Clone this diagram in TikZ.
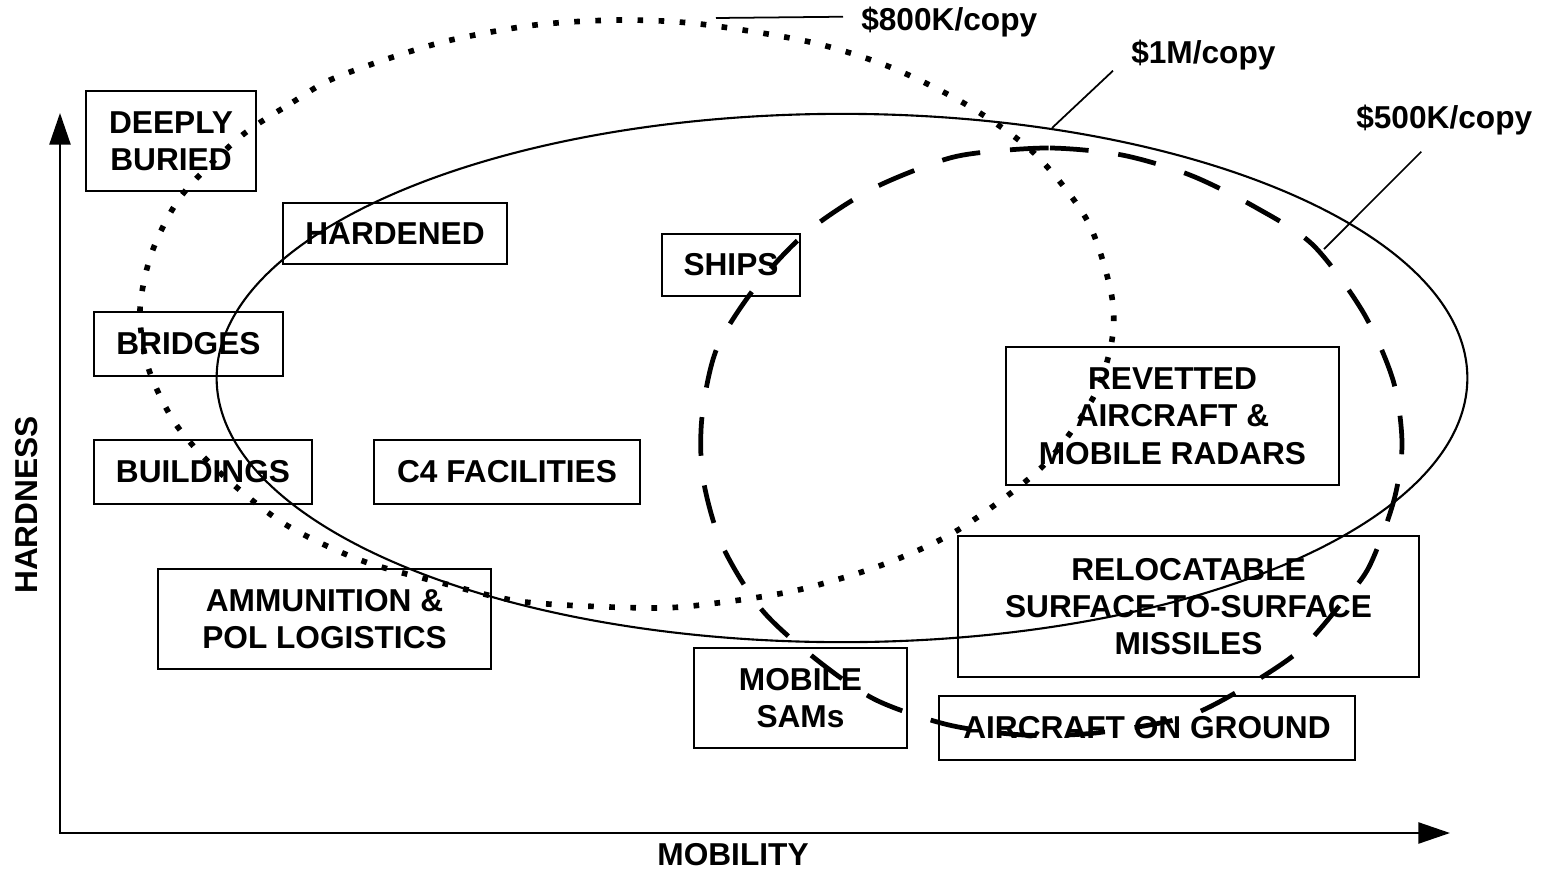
\documentclass[tikz,border=0pt]{standalone}
\usepackage{fontspec}
\setmainfont{Liberation Sans}
\usetikzlibrary{arrows.meta}

\begin{document}
\begin{tikzpicture}[x=0.01cm,y=-0.01cm,
  font=\fontsize{9}{10.6}\selectfont\bfseries,
  target/.style={draw,line width=0.7pt,align=center,inner sep=0pt},
  axis/.style={line width=0.6pt,{Triangle[length=9pt,width=6pt]}-{Triangle[length=9pt,width=6pt]}},
  cost/.style={inner xsep=5pt,inner ysep=0pt},
  leader/.style={line width=0.5pt},
  dots/.style={line width=1.6pt,dash pattern=on 1.6pt off 4.4pt},
  dashes/.style={line width=1.35pt,dash pattern=on 11pt off 8.5pt}]
\useasboundingbox (0,0) rectangle (1541,869);

% axes
\coordinate (ytip) at (60,113);
\coordinate (origin) at (60,833);
\coordinate (xtip) at (1450,833);
\draw[axis] (ytip) -- (origin) -- (xtip);
\node[rotate=90] (hard) at (27,505) {HARDNESS};
\node (mob) at (733,855) {MOBILITY};

% targets
\node[target,minimum width=1.70cm,minimum height=1.00cm] (deep) at (171,141) {DEEPLY\\BURIED};
\node[target,minimum width=2.24cm,minimum height=0.61cm] (hardened) at (395,233.5) {HARDENED};
\node[target,minimum width=1.38cm,minimum height=0.62cm] (ships) at (731,265) {SHIPS};
\node[target,minimum width=1.89cm,minimum height=0.64cm] (bridges) at (188.5,344) {BRIDGES};
\node[target,minimum width=2.18cm,minimum height=0.64cm] (buildings) at (203,472) {BUILDINGS};
\node[target,minimum width=2.66cm,minimum height=0.64cm] (cfour) at (507,472) {C4 FACILITIES};
\node[target,minimum width=3.33cm,minimum height=1.00cm] (ammo) at (324.5,619) {AMMUNITION \&\\POL LOGISTICS};
\node[target,minimum width=3.33cm,minimum height=1.38cm] (revetted) at (1172.5,416) {REVETTED\\AIRCRAFT \&\\MOBILE RADARS};
\node[target,minimum width=4.61cm,minimum height=1.41cm] (reloc) at (1188.5,606.5) {RELOCATABLE\\SURFACE-TO-SURFACE\\MISSILES};
\node[target,minimum width=2.13cm,minimum height=1.00cm] (sams) at (800.5,698) {MOBILE\\SAMs};
\node[target,minimum width=4.16cm,minimum height=0.64cm] (ground) at (1147,728) {AIRCRAFT ON GROUND};

% cost envelopes
\draw[line width=0.6pt] (842,378) ellipse [x radius=6.25cm,y radius=2.64cm];
\draw[dots] plot[smooth cycle] coordinates {(240,137) (293,102) (330,80) (390,58) (451,40)
  (535,25) (620,20) (700,24) (810,42) (890,67) (967,105) (1034,153) (1087,220) (1111,292)
  (1112,340) (1093,398) (1042,467) (958,530) (882,565) (798,590) (717,603) (652,608)
  (525,602) (442,583) (360,560) (283,523) (217,470) (175,423) (148,367) (140,310)
  (152,252) (182,195)};
\draw[dashes] plot[smooth cycle] coordinates {(977,153) (1050,148) (1122,155) (1190,175)
  (1255,207) (1313,245) (1363,312) (1393,380) (1402,443) (1394,500) (1369,567) (1340,605)
  (1298,652) (1237,692) (1182,718) (1095,733) (1024,735) (949,725) (876,700) (817,660)
  (762,610) (722,545) (703,478) (702,417) (717,348) (757,285) (807,232) (870,190) (937,162)};

% cost labels
\node[cost,anchor=west] (k800) at (843,22) {\$800K/copy};
\node[cost,anchor=west] (m1) at (1113,55) {\$1M/copy};
\node[cost,anchor=west] (k500) at (1338,120) {\$500K/copy};
\coordinate (c800) at (716,18);
\coordinate (c1m) at (1052,128);
\coordinate (c500) at (1324,249);
\draw[leader] (c800) -- ([yshift=1.5pt]k800.west);
\draw[leader] (c1m) -- (m1.south west);
\draw[leader] (c500) -- ([shift={(-23,16)}]k500.south);
\end{tikzpicture}
\end{document}
